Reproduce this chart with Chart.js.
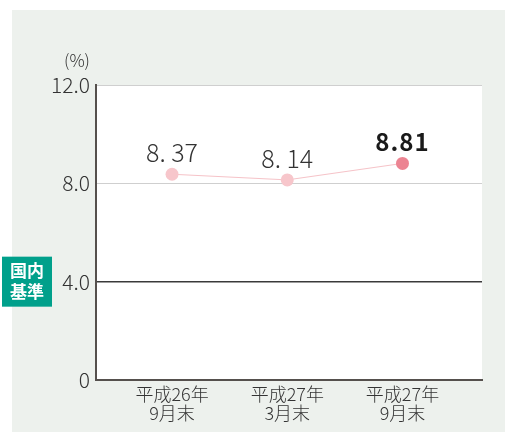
<!DOCTYPE html>
<html>
<head>
<meta charset="utf-8">
<script src="https://cdn.jsdelivr.net/npm/chart.js@4"></script>
<style>
  html, body { margin: 0; padding: 0; background: #ffffff; }
  #wrap { width: 505px; height: 432px; position: relative; }
</style>
</head>
<body>
<div id="wrap"><canvas id="c" width="505" height="432"></canvas></div>
<script>
// 自己資本比率の推移
const periods = [['平成26年', '9月末'], ['平成27年', '3月末'], ['平成27年', '9月末']];
const ratios = [8.37, 8.14, 8.81];
const ratioLabels = ['8. 37', '8. 14', '8.81'];
const yTicks = [0, 4, 8, 12];
const domesticStandard = 4;

const pointColors = ['#f7c6cb', '#f7c6cb', '#ec8492'];

const panelPlugin = {
  id: 'panel',
  beforeDraw(chart) {
    const { ctx, chartArea: a } = chart;
    ctx.save();
    ctx.fillStyle = '#edf1ed';
    ctx.fillRect(12, 10, chart.width - 12, chart.height - 10);
    ctx.fillStyle = '#ffffff';
    ctx.fillRect(a.left, a.top, a.right - a.left, a.bottom - a.top);
    ctx.restore();
  },
  afterDraw(chart) {
    const { ctx } = chart;
    const y = chart.scales.y;
    ctx.save();
    // unit
    ctx.fillStyle = '#333333';
    ctx.font = '300 17px "Noto Sans CJK JP", "Noto Sans", sans-serif';
    ctx.textAlign = 'center';
    ctx.textBaseline = 'middle';
    ctx.fillText('(%)', 77, 61);
    // domestic standard badge
    const by = y.getPixelForValue(domesticStandard);
    ctx.fillStyle = '#00a08b';
    ctx.fillRect(2, by - 25, 50, 50);
    ctx.fillStyle = '#ffffff';
    ctx.font = 'bold 17px "Noto Sans CJK JP", sans-serif';
    ctx.fillText('国内', 27, by - 11);
    ctx.fillText('基準', 27, by + 10);
    ctx.restore();
  },
  afterDatasetsDraw(chart) {
    const { ctx } = chart;
    const meta = chart.getDatasetMeta(0);
    ctx.save();
    ctx.textAlign = 'center';
    ctx.textBaseline = 'alphabetic';
    meta.data.forEach((pt, i) => {
      const last = i === meta.data.length - 1;
      ctx.fillStyle = last ? '#1a1a1a' : '#333333';
      ctx.letterSpacing = last ? '1px' : '0px';
      ctx.font = (last ? '600 24px ' : '300 25px ') + '"Noto Sans CJK JP", "Noto Sans", sans-serif';
      ctx.fillText(ratioLabels[i], pt.x, pt.y - 12);
    });
    ctx.restore();
  }
};

new Chart(document.getElementById('c'), {
  type: 'line',
  data: {
    datasets: [{
      data: ratios.map((v, i) => ({ x: i, y: v })),
      borderColor: '#f6c3c8',
      borderWidth: 1,
      pointBackgroundColor: pointColors,
      pointBorderWidth: 0,
      pointRadius: 6.5,
      tension: 0
    }]
  },
  options: {
    responsive: false,
    animation: false,
    events: [],
    layout: { padding: { left: 0, top: 85, right: 23, bottom: 0 } },
    plugins: { legend: { display: false }, tooltip: { enabled: false } },
    scales: {
      x: {
        type: 'linear',
        min: -0.66,
        max: 2.69,
        afterFit(s) { s.height = 52; },
        afterBuildTicks(s) { s.ticks = periods.map((_, i) => ({ value: i })); },
        grid: { display: false, drawTicks: false },
        border: { display: true, color: '#55504d', width: 2 },
        ticks: {
          padding: 5,
          color: '#333333',
          font: { family: '"Noto Sans CJK JP", sans-serif', size: 18, weight: 300, lineHeight: 1.03 },
          maxRotation: 0,
          callback: v => periods[v]
        }
      },
      y: {
        min: 0,
        max: 12,
        afterFit(s) { s.width = 96; },
        afterBuildTicks(s) { s.ticks = yTicks.map(v => ({ value: v })); },
        border: { display: true, color: '#55504d', width: 2 },
        grid: {
          drawTicks: false,
          color: c => c.tick.value === domesticStandard ? '#3a3a3a' : (c.tick.value === 0 ? 'rgba(0,0,0,0)' : '#cfcfcf'),
          lineWidth: c => c.tick.value === domesticStandard ? 1.5 : 1
        },
        ticks: {
          padding: 6,
          color: '#333333',
          font: { family: '"Noto Sans CJK JP", sans-serif', size: 21, weight: 300 },
          callback: v => v === 0 ? '0' : v.toFixed(1)
        }
      }
    }
  },
  plugins: [panelPlugin]
});
</script>
</body>
</html>
